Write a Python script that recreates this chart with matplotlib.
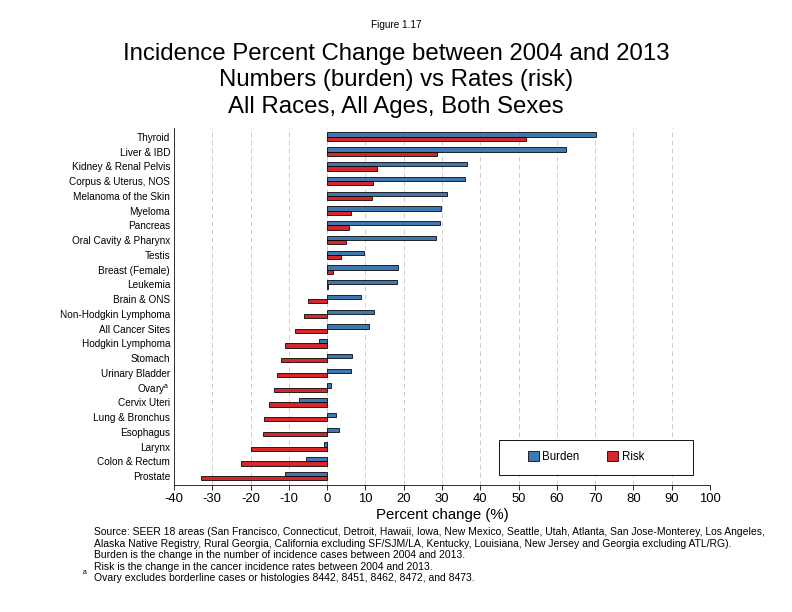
import matplotlib
matplotlib.use('Agg')
import matplotlib.pyplot as plt
from matplotlib.patches import Rectangle
import numpy as np

plt.rcParams['font.family'] = ['Liberation Sans', 'DejaVu Sans']
plt.rcParams['mathtext.fontset'] = 'custom'
plt.rcParams['mathtext.rm'] = 'Liberation Sans'
plt.rcParams['axes.unicode_minus'] = False

# 数据
sites = ['Thyroid', 'Liver & IBD', 'Kidney & Renal Pelvis', 'Corpus & Uterus, NOS',
         'Melanoma of the Skin', 'Myeloma', 'Pancreas', 'Oral Cavity & Pharynx',
         'Testis', 'Breast (Female)', 'Leukemia', 'Brain & ONS',
         'Non-Hodgkin Lymphoma', 'All Cancer Sites', 'Hodgkin Lymphoma', 'Stomach',
         'Urinary Bladder', 'Ovary$^{\\mathrm{a}}$', 'Cervix Uteri', 'Lung & Bronchus',
         'Esophagus', 'Larynx', 'Colon & Rectum', 'Prostate']
burden = [70.3, 62.3, 36.5, 36.0, 31.3, 29.7, 29.5, 28.4, 9.7, 18.6, 18.3, 8.9,
          12.3, 11.0, -2.1, 6.6, 6.1, 1.1, -7.3, 2.2, 3.2, -0.8, -5.5, -10.9]
risk = [51.9, 28.7, 13.1, 12.1, 11.8, 6.3, 5.8, 4.9, 3.7, 1.4, 0.3, -4.9,
        -6.0, -8.3, -10.9, -12.0, -13.0, -13.8, -15.1, -16.4, -16.7, -19.8, -22.4, -33.0]
x_ticks = list(range(-40, 101, 10))

W, H = 792, 612
fig = plt.figure(figsize=(11, 8.5), dpi=72)
ax = fig.add_axes([0.2197, 0.2075, 0.6768, 0.5835])

y = np.arange(len(sites))
h = 0.29
ax.barh(y - h / 2, burden, height=h, color='#3F78B0', edgecolor='black', linewidth=0.8, label='Burden', zorder=3)
ax.barh(y + h / 2, risk, height=h, color='#D7262A', edgecolor='black', linewidth=0.8, label='Risk', zorder=3)

ax.set_ylim(len(sites) - 0.4, -0.6)
ax.set_yticks(y)
ax.set_yticklabels(sites, fontsize=10)
ax.tick_params(axis='y', length=0, pad=4)

ax.set_xlim(-40, 100)
ax.set_xticks(x_ticks)
ax.tick_params(axis='x', labelsize=13, direction='out', length=5, pad=3)
ax.set_xlabel('Percent change (%)', fontsize=15, labelpad=3)

for t in x_ticks[1:-1]:
    ax.axvline(t, color='#C8C8C8', linestyle=(0, (5, 4)), linewidth=0.9, zorder=0)

ax.spines['top'].set_visible(False)
ax.spines['right'].set_visible(False)

# 图例：外框单独画
fig.patches.append(Rectangle((499 / W, 1 - 475 / H), 194 / W, 35 / H, transform=fig.transFigure,
                             facecolor='white', edgecolor='black', linewidth=0.9, zorder=5))
leg = fig.legend(*ax.get_legend_handles_labels(), loc='center left',
                 bbox_to_anchor=(528 / W, 1 - 457 / H), ncol=2, fontsize=11.5,
                 frameon=False, handlelength=0.95, handleheight=0.95, handletextpad=0.3,
                 columnspacing=2.4, borderpad=0, borderaxespad=0)
leg.set_zorder(6)

fig.text(0.5, 1 - 25 / H, 'Figure 1.17', ha='center', va='center', fontsize=10)
fig.text(0.5, 1 - 54 / H, 'Incidence Percent Change between 2004 and 2013', ha='center', va='center', fontsize=24)
fig.text(0.5, 1 - 80 / H, 'Numbers (burden) vs Rates (risk)', ha='center', va='center', fontsize=24)
fig.text(0.5, 1 - 107 / H, 'All Races, All Ages, Both Sexes', ha='center', va='center', fontsize=24)

notes = ['Source: SEER 18 areas (San Francisco, Connecticut, Detroit, Hawaii, Iowa, New Mexico, Seattle, Utah, Atlanta, San Jose-Monterey, Los Angeles,',
         'Alaska Native Registry, Rural Georgia, California excluding SF/SJM/LA, Kentucky, Louisiana, New Jersey and Georgia excluding ATL/RG).',
         'Burden is the change in the number of incidence cases between 2004 and 2013.',
         'Risk is the change in the cancer incidence rates between 2004 and 2013.',
         'Ovary excludes borderline cases or histologies 8442, 8451, 8462, 8472, and 8473.']
for i, line in enumerate(notes):
    fig.text(94 / W, 1 - (532 + i * 11.6) / H, line, ha='left', va='center', fontsize=10.4)
fig.text(83 / W, 1 - 572 / H, 'a', ha='left', va='center', fontsize=7)

fig.savefig('out.png', dpi=72)
